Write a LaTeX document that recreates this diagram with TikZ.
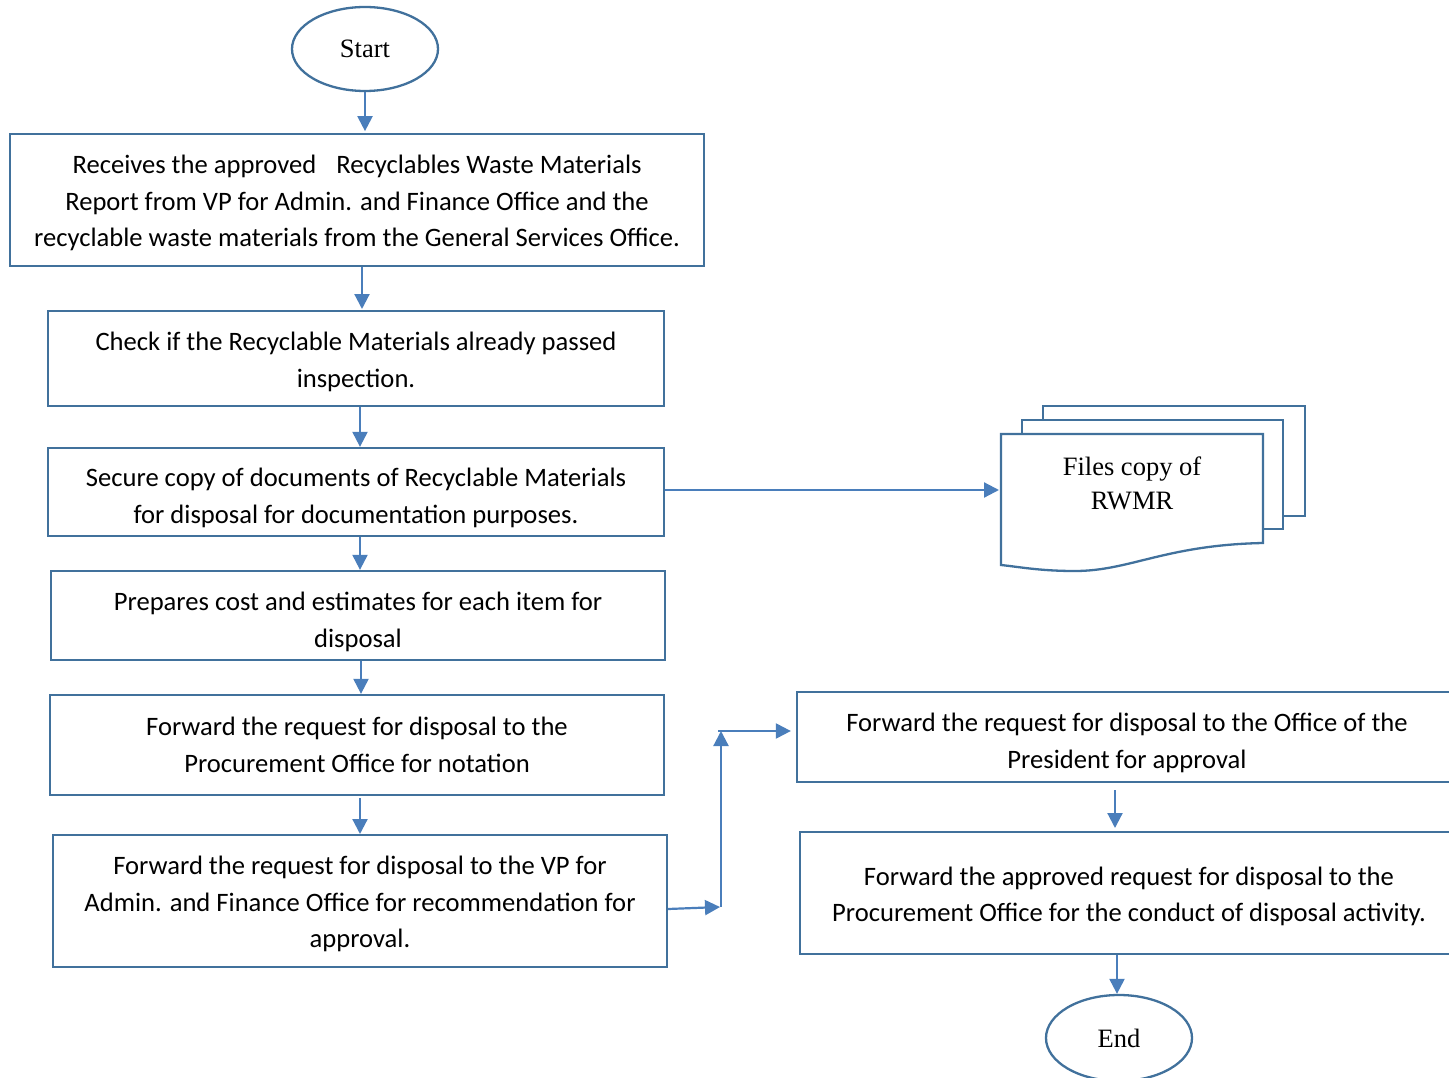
\documentclass[tikz,border=0pt]{standalone}
\usepackage{fontspec}
\setmainfont{Carlito}
\newfontfamily\serifface{Liberation Serif}
\usetikzlibrary{arrows.meta,shapes.geometric}
\definecolor{boxline}{HTML}{41719C}
\definecolor{arrowline}{HTML}{4A7EBB}
\tikzset{
  bodyfont/.style={font=\fontsize{26.6}{36.5}\selectfont},
  stepbox/.style={draw=boxline, line width=2.3pt, fill=white, rectangle, inner sep=0pt},
  steptext/.style={bodyfont, align=center, inner sep=0pt},
  terminal/.style={draw=boxline, line width=2.3pt, ellipse, inner sep=0pt,
    minimum width=146pt, minimum height=84pt, font=\serifface\fontsize{26.5}{34}\selectfont},
  arr/.style={draw=arrowline, line width=2.2pt, -{Triangle[length=15pt,width=15pt]}},
  docline/.style={draw=boxline, line width=2.3pt, fill=white},
}
\begin{document}
\begin{tikzpicture}[x=1pt,y=-1pt]
\useasboundingbox (0,0) rectangle (1449,1078);
\clip (0,0) rectangle (1449,1078);

% terminals
\node[terminal] (start) at (365,49) {Start};
\node[terminal, minimum height=86pt] (end) at (1119,1038) {End};

% process steps, left column
\node[stepbox, minimum width=694pt, minimum height=132pt] (b1) at (357,200) {};
\node[steptext] (t1) at (357,203)
  {Receives the approved\hspace{14pt} Recyclables Waste Materials\\
   Report from VP for Admin. and Finance Office and the\\
   recyclable waste materials from the General Services Office.};
\node[stepbox, minimum width=616pt, minimum height=95pt] (b2) at (356,358.5) {};
\node[steptext] (t2) at (356,362)
  {Check if the Recyclable Materials already passed\\ inspection.};
\node[stepbox, minimum width=616pt, minimum height=88pt] (b3) at (356,492) {};
\node[steptext] (t3) at (356,498)
  {Secure copy of documents of Recyclable Materials\\
   for disposal for documentation purposes.};
\node[stepbox, minimum width=614pt, minimum height=89pt] (b4) at (358,615.5) {};
\node[steptext] (t4) at (358,622)
  {Prepares cost and estimates for each item for\\ disposal};
\node[stepbox, minimum width=614pt, minimum height=100pt] (b5) at (357,745) {};
\node[steptext] (t5) at (357,745)
  {Forward the request for disposal to the\\ Procurement Office for notation};
\node[stepbox, minimum width=614pt, minimum height=132pt] (b6) at (360,901) {};
\node[steptext] (t6) at (360,904)
  {Forward the request for disposal to the VP for\\
   Admin. and Finance Office for recommendation for\\ approval.};

% process steps, right column (running past the right edge)
\node[stepbox, minimum width=662pt, minimum height=90pt] (b7) at (1128,737) {};
\node[steptext] (t7) at (1127,743)
  {Forward the request for disposal to the Office of the\\ President for approval};
\node[stepbox, minimum width=660pt, minimum height=122pt] (b8) at (1130,893) {};
\node[steptext] (t8) at (1129,896.5)
  {Forward the approved request for disposal to the\\
   Procurement Office for the conduct of disposal activity.};

% stacked documents
\path[docline] (1043,406) rectangle (1305,516);
\path[docline] (1022,420) rectangle (1283,529);
\path[docline] (1001,434) -- (1263,434) -- (1263,543)
  .. controls (1165,545) and (1130,571) .. (1075,571)
  .. controls (1040,571) and (1020,567) .. (1001,565) -- cycle;
\node[font=\serifface\fontsize{26.5}{34}\selectfont, align=center] (doc) at (1132,483)
  {Files copy of\\ RWMR};
\coordinate (docw) at (1001,490);

% main flow
\draw[arr] (start.south) -- ++(0,39);
\draw[arr] (362,267) -- (362,309);
\draw[arr] ([xshift=4pt]b2.south) -- ([xshift=4pt]b3.north);
\draw[arr] ([xshift=4pt]b3.south) -- ([xshift=2pt]b4.north);
\draw[arr] ([xshift=3pt]b4.south) -- ([xshift=4pt]b5.north);
\draw[arr] ([xshift=3pt,yshift=-2pt]b5.south) -- (360,834);

% filing branch
\draw[arr] (b3.east |- docw) -- ([xshift=-2pt]docw);

% route over to the right column
\coordinate (up1) at (721,907);
\coordinate (up2) at (721,731);
\draw[arr] ([yshift=-8pt]b6.east) -- ([xshift=-1pt]up1);
\draw[arr] (up1) -- (up2);
\draw[arr] ([xshift=-3pt]up2) -- ([xshift=-5pt]b7.west |- up2);

% right column flow
\draw[arr] (1115,790) -- (1115,828);
\draw[arr] ([xshift=-13pt]b8.south) -- ([xshift=-2pt]end.north);
\end{tikzpicture}
\end{document}
